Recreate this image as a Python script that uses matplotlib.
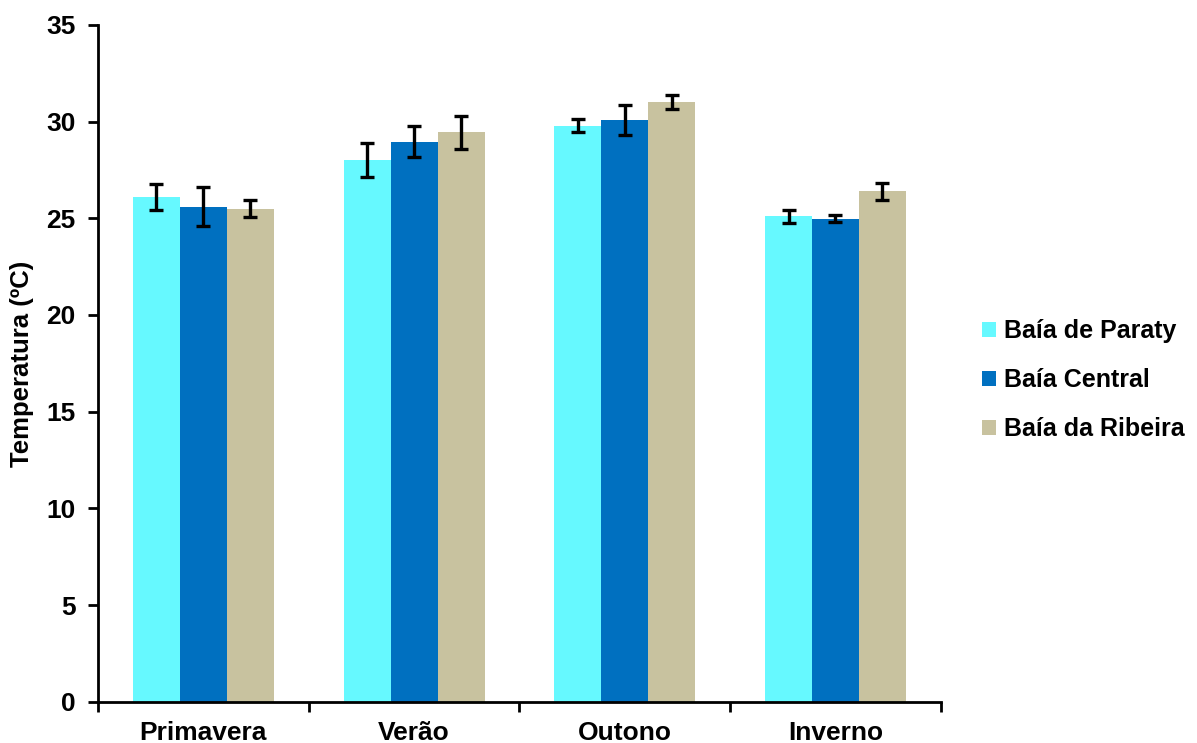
import matplotlib
matplotlib.use("Agg")
import matplotlib.pyplot as plt
import numpy as np

plt.rcParams['font.family'] = ['Liberation Sans', 'DejaVu Sans']

seasons = ["Primavera", "Verão", "Outono", "Inverno"]
series_names = ["Baía de Paraty", "Baía Central", "Baía da Ribeira"]
paraty = [26.1, 28.0, 29.8, 25.1]
central = [25.6, 28.95, 30.1, 24.97]
ribeira = [25.5, 29.45, 31.0, 26.4]
paraty_err = [0.65, 0.88, 0.35, 0.32]
central_err = [1.0, 0.8, 0.78, 0.18]
ribeira_err = [0.43, 0.86, 0.36, 0.43]
yticks = [0, 5, 10, 15, 20, 25, 30, 35]

colors = ['#66F9FF', '#0070C0', '#C8C29F']

W, H = 1197, 743
fig = plt.figure(figsize=(W / 100, H / 100), dpi=100)
ax = fig.add_axes([0.0819, 0.0556, 0.786 - 0.0819, 0.9664 - 0.0556])

x = np.arange(len(seasons))
w = 0.223
vals = [paraty, central, ribeira]
errs = [paraty_err, central_err, ribeira_err]
for i, (v, e, c, n) in enumerate(zip(vals, errs, colors, series_names)):
    ax.bar(x + (i - 1) * w, v, width=w, color=c, label=n, zorder=2)
    ax.errorbar(x + (i - 1) * w, v, yerr=e, fmt='none', ecolor='black',
                elinewidth=2.4, capsize=5, capthick=2.4, zorder=3)

ax.set_xlim(-0.5, 3.5)
ax.set_ylim(0, 35)
ax.set_yticks(yticks)
ax.set_yticklabels([str(t) for t in yticks], fontsize=19, fontweight='bold')
ax.set_xticks(np.arange(-0.5, 4.0, 1.0), minor=False)
ax.set_xticklabels([])
ax.set_xticks(x, minor=True)
ax.set_xticklabels(seasons, minor=True, fontsize=19, fontweight='bold')
ax.tick_params(axis='x', which='minor', length=0, pad=14)
ax.tick_params(axis='x', which='major', length=7, width=2, direction='out')
ax.tick_params(axis='y', length=7, width=2, direction='out', pad=9)

for s in ['top', 'right']:
    ax.spines[s].set_visible(False)
for s in ['left', 'bottom']:
    ax.spines[s].set_linewidth(2)

fig.text(22 / W, 1 - 364 / H, "Temperatura (ºC)", rotation=90, fontsize=18.5,
         fontweight='bold', ha='center', va='center')

leg = fig.legend(loc='center left', bbox_to_anchor=(982 / W, 1 - 380 / H), frameon=False,
                 prop={'size': 18, 'weight': 'bold'}, handlelength=0.55,
                 handleheight=0.55, handletextpad=0.35, labelspacing=1.0,
                 borderpad=0, borderaxespad=0)

fig.savefig("out.png", dpi=100)
